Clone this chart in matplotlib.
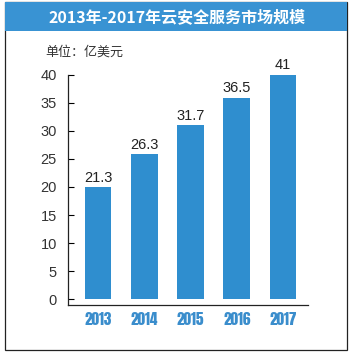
import matplotlib
matplotlib.use("Agg")
import matplotlib.pyplot as plt
from matplotlib.patches import Rectangle
from matplotlib import font_manager

plt.rcParams['font.family'] = ['Liberation Sans', 'Noto Sans CJK SC', 'DejaVu Sans']

years = ['2013', '2014', '2015', '2016', '2017']
bar_heights = [20.0, 25.8, 31.0, 35.9, 40.0]
value_labels = ['21.3', '26.3', '31.7', '36.5', '41']
yticks = [0, 5, 10, 15, 20, 25, 30, 35, 40]
title = '2013年-2017年云安全服务市场规模'
unit = '单位：亿美元'

BLUE = '#2f8ecf'
W, H = 352, 355
fig = plt.figure(figsize=(W / 100, H / 100), dpi=100)

# outer frame and title band
fig.patches.append(Rectangle((5 / W, 1 - 350 / H), 342 / W, 348 / H, transform=fig.transFigure,
                             facecolor='white', edgecolor='#222222', linewidth=0.9, zorder=0))
fig.patches.append(Rectangle((5 / W, 1 - 31 / H), 342 / W, 29 / H, transform=fig.transFigure,
                             facecolor='#3993d3', edgecolor='none', zorder=0))
fig.text(177 / W, 1 - 17 / H, title, ha='center', va='center', color='white',
         fontsize=11.5, fontweight='bold', family=['Noto Sans CJK SC', 'DejaVu Sans'])
fig.text(45 / W, 1 - 52 / H, unit, ha='left', va='center', color='#333333',
         fontsize=9.4, family=['Noto Sans CJK SC', 'DejaVu Sans'])

ax = fig.add_axes([68 / W, 1 - 305 / H, 240 / W, (305 - 74.5) / H])
ax.set_zorder(5)
x = range(len(years))
ax.bar(x, bar_heights, width=0.58, color=BLUE, zorder=2)
for xi, h, lab in zip(x, bar_heights, value_labels):
    ax.text(xi, h + 0.4, lab, ha='center', va='bottom', fontsize=10.5, color='#222222')

ax.set_xlim(-0.65, 4.54)
ax.set_ylim(-1, 40)
ax.set_yticks(yticks)
ax.set_yticklabels([str(t) for t in yticks], fontsize=10.5, color='#333333')
ax.set_xticks(list(x))
ax.set_xticklabels(years)

names = {f.name for f in font_manager.fontManager.ttflist}
prefs = [('Impact', 10.5, 'normal'), ('Anton', 10.0, 'normal'), ('Oswald', 10.5, 'bold'),
         ('Fjalla One', 10.0, 'normal'), ('Bebas Neue', 12.5, 'normal'),
         ('Roboto Condensed', 10.5, 'bold'), ('PT Sans Narrow', 11.0, 'bold'),
         ('Archivo Narrow', 11.0, 'bold'), ('Liberation Sans Narrow', 11.0, 'bold')]
xfam, xsize, xweight = 'DejaVu Sans', 9.0, 'bold'
for n, s, w in prefs:
    if n in names:
        xfam, xsize, xweight = n, s * 1.1, w
        break
for lbl in ax.get_xticklabels():
    lbl.set_family(xfam)
    lbl.set_fontweight(xweight)
    lbl.set_fontsize(xsize)
    if xfam == 'DejaVu Sans':
        lbl.set_fontstretch('condensed')
    lbl.set_color('#3a8dcc')
ax.tick_params(axis='y', direction='in', length=4, width=0.8, pad=8)
ax.tick_params(axis='x', length=0, pad=5)
for s in ['top', 'right']:
    ax.spines[s].set_visible(False)
for s in ['left', 'bottom']:
    ax.spines[s].set_linewidth(0.9)
    ax.spines[s].set_color('#222222')
ax.patch.set_alpha(0)

fig.savefig('out.png', dpi=100)
